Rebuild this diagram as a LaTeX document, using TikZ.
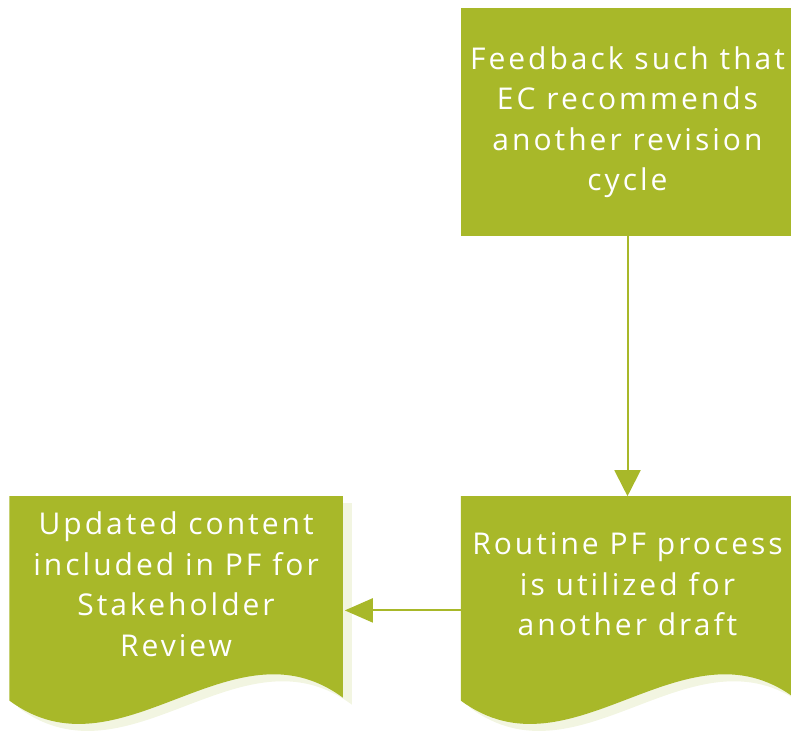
\documentclass[tikz,border=0pt]{standalone}
\usepackage{fontspec}
\setmainfont{Open Sans}[LetterSpace=10]
\definecolor{pfgreen}{HTML}{A8B829}
\definecolor{pfshade}{HTML}{F2F5E1}
\usepackage{tikz}
\usetikzlibrary{arrows.meta,positioning,backgrounds}

\begin{document}
\begin{tikzpicture}[
        x=1pt, y=1pt,
        node distance=118pt,
        box/.style={rectangle, fill=pfgreen, text=white, minimum width=333pt, minimum height=228pt, inner sep=0pt, align=center, font=\fontsize{30}{40.5}\selectfont},
        doc/.style={rectangle, text=white, minimum width=333pt, minimum height=176pt, inner sep=0pt, align=center, font=\fontsize{30}{40.5}\selectfont},
        arrow/.style={-{Triangle[length=26pt,width=26pt]}, line width=2pt, draw=pfgreen}
    ]
        \useasboundingbox (0,0) rectangle (791,-730);

        \node[box] (feedback) at (627.5,-122) {Feedback such that\\EC recommends\\another revision\\cycle};
        \node[doc, below=260pt of feedback] (routine) {Routine PF process\\is utilized for\\another draft};
        \node[doc, left=of routine] (review) {Updated content\\included in PF for\\Stakeholder\\Review};

        % document shapes with their soft shadow
        \begin{scope}[on background layer]
            \foreach \n in {routine,review}
                \foreach \dx/\dy/\col in {9/-7/pfshade, 0/0/pfgreen}
                    \fill[\col] ([shift={(\dx,\dy)}]\n.north west) -- ([shift={(\dx,\dy)}]\n.north east)
                        -- ([shift={(\dx,\dy-25)}]\n.south east)
                        .. controls ([shift={(\dx-111,\dy+57)}]\n.south east) and ([shift={(\dx+111,\dy-110)}]\n.south west)
                        .. ([shift={(\dx,\dy-28)}]\n.south west) -- cycle;
        \end{scope}

        \draw[arrow] (feedback) -- (routine);
        \draw[arrow, -{Triangle[length=28pt,width=24pt]}, shorten >=2pt] ([yshift=-26pt]routine.west) -- ([yshift=-26pt]review.east);
    \end{tikzpicture}
\end{document}
